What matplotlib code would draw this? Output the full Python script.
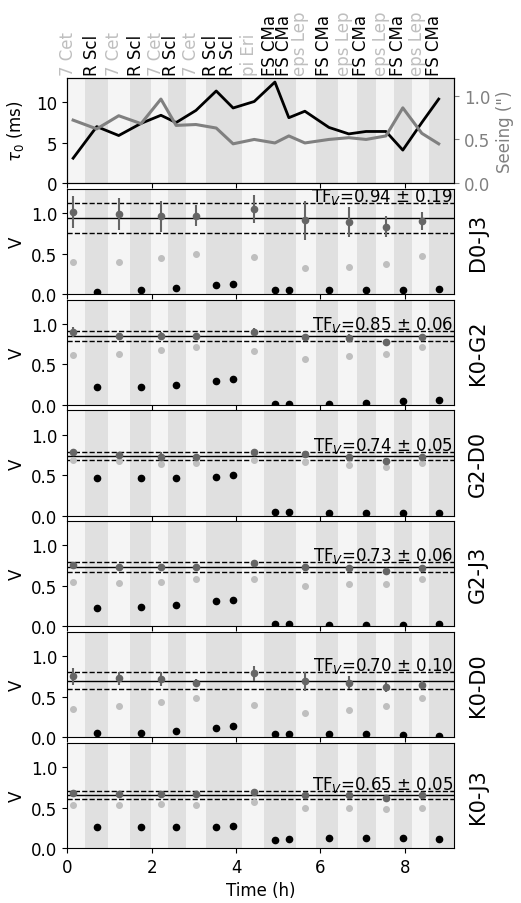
import numpy as np
import matplotlib.pyplot as plt
import matplotlib.transforms as mtransforms

plt.rcParams['font.size'] = 12

# observing sequence (time in h)
obs_names = ['7 Cet', 'R Scl', '7 Cet', 'R Scl', '7 Cet', 'R Scl', '7 Cet', 'R Scl', 'R Scl', 'pi Eri',
             'FS CMa', 'FS CMa', 'eps Lep', 'FS CMa', 'eps Lep', 'FS CMa', 'eps Lep', 'FS CMa', 'eps Lep', 'FS CMa']
obs_t = [0.14, 0.70, 1.22, 1.75, 2.22, 2.58, 3.05, 3.53, 3.93, 4.43,
         4.92, 5.25, 5.63, 6.20, 6.67, 7.08, 7.55, 7.95, 8.40, 8.80]
calibrators = ['7 Cet', 'pi Eri', 'eps Lep']

tau0 = [3.1, 7.0, 5.9, 7.4, 8.4, 7.5, 9.0, 11.4, 9.3, 10.1,
        12.5, 8.1, 8.9, 6.9, 6.1, 6.4, 6.4, 4.1, 7.5, 10.4]
seeing = [0.72, 0.62, 0.77, 0.68, 0.96, 0.66, 0.67, 0.63, 0.45, 0.50,
          0.46, 0.54, 0.46, 0.50, 0.52, 0.50, 0.54, 0.86, 0.57, 0.45]

# background blocks
band_edges = [0, 0.42, 0.96, 1.48, 1.98, 2.38, 2.81, 3.28, 4.15, 4.66, 5.43,
              5.90, 6.42, 6.87, 7.31, 7.74, 8.17, 8.58, 9.17]

cal_t = [0.14, 1.22, 2.22, 3.05, 4.43, 5.63, 6.67, 7.55, 8.40]
sci_t = [0.70, 1.75, 2.58, 3.53, 3.93, 4.92, 5.25, 6.20, 7.08, 7.95, 8.80]

baselines = ['D0-J3', 'K0-G2', 'G2-D0', 'G2-J3', 'K0-D0', 'K0-J3']
tf_mean = [0.94, 0.85, 0.74, 0.73, 0.70, 0.65]
tf_err = [0.19, 0.06, 0.05, 0.06, 0.10, 0.05]

# calibrator transfer function estimates
cal_tf = [[1.01, 0.99, 0.96, 0.97, 1.05, 0.91, 0.89, 0.83, 0.90],
          [0.90, 0.85, 0.85, 0.85, 0.90, 0.84, 0.83, 0.78, 0.84],
          [0.78, 0.75, 0.73, 0.72, 0.78, 0.76, 0.72, 0.68, 0.72],
          [0.76, 0.74, 0.74, 0.74, 0.78, 0.73, 0.72, 0.68, 0.72],
          [0.75, 0.73, 0.72, 0.67, 0.79, 0.69, 0.67, 0.62, 0.65],
          [0.68, 0.67, 0.67, 0.67, 0.69, 0.65, 0.65, 0.62, 0.65]]
cal_tf_err = [[0.20, 0.20, 0.19, 0.13, 0.17, 0.24, 0.19, 0.13, 0.11],
              [0.06, 0.04, 0.05, 0.04, 0.05, 0.035, 0.04, 0.035, 0.03],
              [0.03, 0.02, 0.05, 0.03, 0.03, 0.02, 0.03, 0.03, 0.03],
              [0.04, 0.03, 0.03, 0.03, 0.04, 0.03, 0.03, 0.03, 0.02],
              [0.11, 0.08, 0.09, 0.05, 0.09, 0.12, 0.08, 0.06, 0.05],
              [0.03, 0.02, 0.03, 0.02, 0.03, 0.02, 0.02, 0.02, 0.02]]
# raw calibrator visibilities
cal_v = [[0.40, 0.40, 0.45, 0.50, 0.46, 0.32, 0.34, 0.37, 0.47],
         [0.62, 0.63, 0.68, 0.72, 0.67, 0.57, 0.60, 0.63, 0.72],
         [0.69, 0.67, 0.64, 0.65, 0.69, 0.66, 0.62, 0.60, 0.65],
         [0.55, 0.54, 0.55, 0.59, 0.58, 0.50, 0.52, 0.52, 0.58],
         [0.35, 0.38, 0.43, 0.48, 0.40, 0.30, 0.34, 0.39, 0.49],
         [0.53, 0.53, 0.54, 0.53, 0.57, 0.50, 0.50, 0.48, 0.49]]
# raw science visibilities
sci_v = [[0.03, 0.05, 0.07, 0.11, 0.13, 0.05, 0.05, 0.05, 0.05, 0.05, 0.06],
         [0.22, 0.22, 0.24, 0.29, 0.32, 0.01, 0.01, 0.01, 0.02, 0.05, 0.06],
         [0.47, 0.46, 0.47, 0.48, 0.50, 0.045, 0.045, 0.035, 0.035, 0.035, 0.035],
         [0.23, 0.24, 0.27, 0.31, 0.33, 0.035, 0.035, 0.02, 0.02, 0.02, 0.035],
         [0.055, 0.055, 0.08, 0.12, 0.14, 0.04, 0.04, 0.04, 0.04, 0.03, 0.02],
         [0.26, 0.26, 0.26, 0.26, 0.27, 0.10, 0.11, 0.12, 0.13, 0.13, 0.11]]

fig, axes = plt.subplots(7, 1, figsize=(5.21, 9.04), dpi=100, sharex=True)
fig.subplots_adjust(left=0.129, right=0.872, top=0.9126, bottom=0.0608, hspace=0.052)

for ax in axes:
    for i in range(len(band_edges) - 1):
        col = '#f5f5f5' if i % 2 == 0 else '#e0e0e0'
        ax.axvspan(band_edges[i], band_edges[i + 1], color=col, lw=0, zorder=0)

# top panel: tau0 and seeing
ax0 = axes[0]
ax0.plot(obs_t, tau0, color='k', lw=2, zorder=3)
ax0.set_ylim(0, 13)
ax0.set_yticks([0, 5, 10])
ax0.set_ylabel(r'$\tau_0$ (ms)')
ax0b = ax0.twinx()
ax0b.plot(obs_t, seeing, color='0.5', lw=2.2)
ax0b.set_ylim(0, 1.2)
ax0b.set_yticks([0, 0.5, 1.0])
ax0b.set_ylabel('Seeing (")', color='0.5')
ax0b.tick_params(axis='y', colors='0.5')

trans = mtransforms.blended_transform_factory(ax0.transData, ax0.transAxes)
for t, name in zip(obs_t, obs_names):
    c = '0.75' if name in calibrators else 'k'
    ax0.text(t, 1.03, name, rotation=90, rotation_mode='anchor',
             ha='left', va='baseline', color=c, transform=trans)

for k, ax in enumerate(axes[1:]):
    ax.axhline(tf_mean[k], color='k', lw=1, zorder=2)
    ax.axhline(tf_mean[k] + tf_err[k], color='k', lw=1, ls='--', zorder=2)
    ax.axhline(tf_mean[k] - tf_err[k], color='k', lw=1, ls='--', zorder=2)
    ax.plot(cal_t, cal_v[k], 'o', color='0.75', ms=4, zorder=3)
    ax.errorbar(cal_t, cal_tf[k], yerr=cal_tf_err[k], fmt='o', color='0.4',
                ms=4.5, elinewidth=1.5, capsize=0, zorder=4)
    ax.plot(sci_t, sci_v[k], 'o', color='k', ms=4.5, zorder=4)
    ax.text(9.14, tf_mean[k] + tf_err[k] + 0.025,
            r'TF$_V$=%.2f $\pm$ %.2f' % (tf_mean[k], tf_err[k]),
            ha='right', va='baseline', zorder=5)
    ax.set_ylim(0, 1.3)
    ax.set_yticks([0, 0.5, 1.0])
    ax.set_ylabel('V')
    ax.text(1.035, 0.5, baselines[k], rotation=90, fontsize=15,
            ha='left', va='center', transform=ax.transAxes)

axes[-1].set_xlim(0, 9.17)
axes[-1].set_xticks([0, 2, 4, 6, 8])
axes[-1].set_xlabel('Time (h)')
fig.align_ylabels(axes)

fig.savefig('out.png', dpi=100)
